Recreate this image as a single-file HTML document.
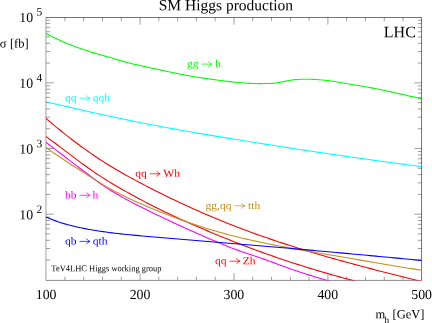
<!DOCTYPE html>
<html><head><meta charset="utf-8"><title>SM Higgs production</title>
<style>html,body{margin:0;padding:0;background:#fff;}body{width:432px;height:323px;overflow:hidden;position:relative;font-family:"Liberation Serif",serif;}</style>
</head><body>
<svg width="432" height="323" viewBox="0 0 432 323" style="position:absolute;left:0;top:0;will-change:transform">
<defs><clipPath id="c"><rect x="46.0" y="17.5" width="375.55" height="262.9"/></clipPath></defs>
<path d="M64.91,17.5v3.7M64.91,280.4v-3.7M83.69,17.5v3.7M83.69,280.4v-3.7M102.48,17.5v3.7M102.48,280.4v-3.7M121.27,17.5v3.7M121.27,280.4v-3.7M140.05,17.5v7.2M140.05,280.4v-7.2M158.84,17.5v3.7M158.84,280.4v-3.7M177.62,17.5v3.7M177.62,280.4v-3.7M196.41,17.5v3.7M196.41,280.4v-3.7M215.19,17.5v3.7M215.19,280.4v-3.7M233.97,17.5v7.2M233.97,280.4v-7.2M252.76,17.5v3.7M252.76,280.4v-3.7M271.55,17.5v3.7M271.55,280.4v-3.7M290.33,17.5v3.7M290.33,280.4v-3.7M309.12,17.5v3.7M309.12,280.4v-3.7M327.90,17.5v7.2M327.90,280.4v-7.2M346.69,17.5v3.7M346.69,280.4v-3.7M365.47,17.5v3.7M365.47,280.4v-3.7M384.25,17.5v3.7M384.25,280.4v-3.7M403.04,17.5v3.7M403.04,280.4v-3.7M46.0,82.86h7.7M421.55,82.86h-7.2M46.0,63.09h4.2M421.55,63.09h-3.7M46.0,51.53h4.2M421.55,51.53h-3.7M46.0,43.33h4.2M421.55,43.33h-3.7M46.0,36.97h4.2M421.55,36.97h-3.7M46.0,31.77h4.2M421.55,31.77h-3.7M46.0,27.37h4.2M421.55,27.37h-3.7M46.0,23.56h4.2M421.55,23.56h-3.7M46.0,20.20h4.2M421.55,20.20h-3.7M46.0,148.52h7.7M421.55,148.52h-7.2M46.0,128.75h4.2M421.55,128.75h-3.7M46.0,117.19h4.2M421.55,117.19h-3.7M46.0,108.99h4.2M421.55,108.99h-3.7M46.0,102.63h4.2M421.55,102.63h-3.7M46.0,97.43h4.2M421.55,97.43h-3.7M46.0,93.03h4.2M421.55,93.03h-3.7M46.0,89.22h4.2M421.55,89.22h-3.7M46.0,85.86h4.2M421.55,85.86h-3.7M46.0,214.18h7.7M421.55,214.18h-7.2M46.0,194.41h4.2M421.55,194.41h-3.7M46.0,182.85h4.2M421.55,182.85h-3.7M46.0,174.65h4.2M421.55,174.65h-3.7M46.0,168.29h4.2M421.55,168.29h-3.7M46.0,163.09h4.2M421.55,163.09h-3.7M46.0,158.69h4.2M421.55,158.69h-3.7M46.0,154.88h4.2M421.55,154.88h-3.7M46.0,151.52h4.2M421.55,151.52h-3.7M46.0,260.07h4.2M421.55,260.07h-3.7M46.0,248.51h4.2M421.55,248.51h-3.7M46.0,240.31h4.2M421.55,240.31h-3.7M46.0,233.95h4.2M421.55,233.95h-3.7M46.0,228.75h4.2M421.55,228.75h-3.7M46.0,224.35h4.2M421.55,224.35h-3.7M46.0,220.54h4.2M421.55,220.54h-3.7M46.0,217.18h4.2M421.55,217.18h-3.7" stroke="#000" stroke-width="0.38" fill="none"/>
<path d="M45.95,17.5H421.55V280.4" fill="none" stroke="#000" stroke-width="0.55"/><path d="M45.95,17.23V280.4" fill="none" stroke="#000" stroke-width="0.38"/><path d="M45.95,280.4H421.82" fill="none" stroke="#000" stroke-width="0.45"/>
<g clip-path="url(#c)" fill="none" stroke-width="1.1">
<path d="M46.00,33.51 L49.00,35.10 L52.00,36.62 L55.00,38.09 L58.00,39.49 L61.00,40.85 L64.00,42.15 L67.00,43.41 L70.00,44.61 L73.00,45.78 L76.00,46.90 L79.00,47.98 L82.00,49.03 L85.00,50.04 L88.00,51.02 L91.00,51.97 L94.00,52.89 L97.00,53.79 L100.00,54.66 L103.00,55.52 L106.00,56.37 L109.00,57.22 L112.00,58.08 L115.00,58.97 L118.00,59.87 L121.00,60.75 L124.00,61.62 L127.00,62.43 L130.00,63.20 L133.00,63.93 L136.00,64.64 L139.00,65.32 L142.00,65.99 L145.00,66.65 L148.00,67.30 L151.00,67.94 L154.00,68.59 L157.00,69.24 L160.00,69.89 L163.00,70.54 L166.00,71.19 L169.00,71.83 L172.00,72.47 L175.00,73.09 L178.00,73.70 L181.00,74.30 L184.00,74.88 L187.00,75.44 L190.00,75.98 L193.00,76.49 L196.00,76.98 L199.00,77.46 L202.00,77.91 L205.00,78.36 L208.00,78.79 L211.00,79.22 L214.00,79.65 L217.00,80.06 L220.00,80.47 L223.00,80.86 L226.00,81.23 L229.00,81.58 L232.00,81.92 L235.00,82.23 L238.00,82.51 L241.00,82.77 L244.00,82.99 L247.00,83.19 L250.00,83.34 L253.00,83.47 L256.00,83.55 L259.00,83.59 L262.00,83.58 L265.00,83.54 L268.00,83.46 L271.00,83.34 L274.00,83.15 L277.00,82.82 L280.00,82.36 L283.00,81.76 L286.00,81.11 L289.00,80.50 L292.00,80.00 L295.00,79.65 L298.00,79.43 L301.00,79.31 L304.00,79.23 L307.00,79.21 L310.00,79.24 L313.00,79.33 L316.00,79.49 L319.00,79.70 L322.00,79.97 L325.00,80.29 L328.00,80.66 L331.00,81.06 L334.00,81.50 L337.00,81.97 L340.00,82.46 L343.00,82.96 L346.00,83.48 L349.00,84.00 L352.00,84.52 L355.00,85.03 L358.00,85.53 L361.00,86.04 L364.00,86.55 L367.00,87.07 L370.00,87.60 L373.00,88.16 L376.00,88.73 L379.00,89.33 L382.00,89.94 L385.00,90.56 L388.00,91.20 L391.00,91.86 L394.00,92.52 L397.00,93.19 L400.00,93.87 L403.00,94.55 L406.00,95.24 L409.00,95.93 L412.00,96.62 L415.00,97.31 L418.00,98.00 L421.00,98.68 L421.55,98.81" stroke="#00ff00"/>
<path d="M46.00,101.80 L49.00,102.49 L52.00,103.19 L55.00,103.88 L58.00,104.58 L61.00,105.27 L64.00,105.96 L67.00,106.66 L70.00,107.35 L73.00,108.03 L76.00,108.72 L79.00,109.41 L82.00,110.09 L85.00,110.77 L88.00,111.44 L91.00,112.12 L94.00,112.79 L97.00,113.45 L100.00,114.12 L103.00,114.78 L106.00,115.43 L109.00,116.08 L112.00,116.73 L115.00,117.37 L118.00,118.01 L121.00,118.64 L124.00,119.27 L127.00,119.89 L130.00,120.51 L133.00,121.12 L136.00,121.72 L139.00,122.33 L142.00,122.92 L145.00,123.51 L148.00,124.09 L151.00,124.67 L154.00,125.25 L157.00,125.82 L160.00,126.38 L163.00,126.94 L166.00,127.50 L169.00,128.05 L172.00,128.59 L175.00,129.13 L178.00,129.67 L181.00,130.21 L184.00,130.74 L187.00,131.26 L190.00,131.79 L193.00,132.31 L196.00,132.82 L199.00,133.34 L202.00,133.85 L205.00,134.36 L208.00,134.86 L211.00,135.37 L214.00,135.87 L217.00,136.37 L220.00,136.86 L223.00,137.36 L226.00,137.85 L229.00,138.34 L232.00,138.83 L235.00,139.32 L238.00,139.81 L241.00,140.29 L244.00,140.78 L247.00,141.26 L250.00,141.74 L253.00,142.22 L256.00,142.70 L259.00,143.18 L262.00,143.66 L265.00,144.13 L268.00,144.60 L271.00,145.08 L274.00,145.55 L277.00,146.01 L280.00,146.48 L283.00,146.95 L286.00,147.41 L289.00,147.87 L292.00,148.33 L295.00,148.79 L298.00,149.25 L301.00,149.71 L304.00,150.16 L307.00,150.61 L310.00,151.06 L313.00,151.51 L316.00,151.96 L319.00,152.41 L322.00,152.85 L325.00,153.29 L328.00,153.73 L331.00,154.17 L334.00,154.61 L337.00,155.04 L340.00,155.48 L343.00,155.91 L346.00,156.34 L349.00,156.77 L352.00,157.19 L355.00,157.62 L358.00,158.04 L361.00,158.46 L364.00,158.88 L367.00,159.30 L370.00,159.71 L373.00,160.13 L376.00,160.54 L379.00,160.95 L382.00,161.36 L385.00,161.76 L388.00,162.17 L391.00,162.57 L394.00,162.97 L397.00,163.36 L400.00,163.76 L403.00,164.15 L406.00,164.55 L409.00,164.93 L412.00,165.32 L415.00,165.71 L418.00,166.09 L421.00,166.47 L421.55,166.54" stroke="#00ffff"/>
<path d="M45.50,118.01 L48.50,120.56 L51.50,123.09 L54.50,125.59 L57.50,128.06 L60.50,130.51 L63.50,132.93 L66.50,135.31 L69.50,137.67 L72.50,139.99 L75.50,142.28 L78.50,144.53 L81.50,146.75 L84.50,148.93 L87.50,151.07 L90.50,153.17 L93.50,155.23 L96.50,157.24 L99.50,159.22 L102.50,161.16 L105.50,163.06 L108.50,164.92 L111.50,166.75 L114.50,168.55 L117.50,170.32 L120.50,172.06 L123.50,173.77 L126.50,175.45 L129.50,177.12 L132.50,178.76 L135.50,180.38 L138.50,181.98 L141.50,183.56 L144.50,185.13 L147.50,186.69 L150.50,188.23 L153.50,189.76 L156.50,191.27 L159.50,192.77 L162.50,194.26 L165.50,195.74 L168.50,197.20 L171.50,198.65 L174.50,200.08 L177.50,201.50 L180.50,202.91 L183.50,204.30 L186.50,205.68 L189.50,207.05 L192.50,208.41 L195.50,209.75 L198.50,211.08 L201.50,212.39 L204.50,213.69 L207.50,214.98 L210.50,216.26 L213.50,217.52 L216.50,218.77 L219.50,220.01 L222.50,221.23 L225.50,222.44 L228.50,223.64 L231.50,224.83 L234.50,226.00 L237.50,227.16 L240.50,228.31 L243.50,229.45 L246.50,230.57 L249.50,231.68 L252.50,232.78 L255.50,233.86 L258.50,234.94 L261.50,236.00 L264.50,237.05 L267.50,238.09 L270.50,239.13 L273.50,240.14 L276.50,241.15 L279.50,242.15 L282.50,243.14 L285.50,244.12 L288.50,245.09 L291.50,246.05 L294.50,247.00 L297.50,247.94 L300.50,248.88 L303.50,249.80 L306.50,250.72 L309.50,251.62 L312.50,252.52 L315.50,253.42 L318.50,254.30 L321.50,255.18 L324.50,256.05 L327.50,256.91 L330.50,257.76 L333.50,258.61 L336.50,259.45 L339.50,260.29 L342.50,261.12 L345.50,261.94 L348.50,262.76 L351.50,263.58 L354.50,264.38 L357.50,265.19 L360.50,265.98 L363.50,266.78 L366.50,267.57 L369.50,268.35 L372.50,269.13 L375.50,269.91 L378.50,270.68 L381.50,271.45 L384.50,272.21 L387.50,272.98 L390.50,273.74 L393.50,274.49 L396.50,275.25 L399.50,276.00 L402.50,276.75 L405.50,277.50 L408.50,278.25 L411.50,278.99 L414.50,279.74 L417.50,280.48 L420.50,281.22 L423.50,281.96 L425.00,282.33" stroke="#ff0000"/>
<path d="M45.50,136.20 L48.50,138.37 L51.50,140.58 L54.50,142.81 L57.50,145.06 L60.50,147.32 L63.50,149.60 L66.50,151.87 L69.50,154.15 L72.50,156.41 L75.50,158.66 L78.50,160.90 L81.50,163.11 L84.50,165.30 L87.50,167.46 L90.50,169.57 L93.50,171.65 L96.50,173.68 L99.50,175.66 L102.50,177.61 L105.50,179.51 L108.50,181.37 L111.50,183.20 L114.50,184.99 L117.50,186.75 L120.50,188.49 L123.50,190.20 L126.50,191.89 L129.50,193.56 L132.50,195.20 L135.50,196.84 L138.50,198.45 L141.50,200.05 L144.50,201.63 L147.50,203.20 L150.50,204.74 L153.50,206.27 L156.50,207.78 L159.50,209.27 L162.50,210.74 L165.50,212.19 L168.50,213.62 L171.50,215.04 L174.50,216.43 L177.50,217.80 L180.50,219.15 L183.50,220.49 L186.50,221.82 L189.50,223.13 L192.50,224.44 L195.50,225.73 L198.50,227.02 L201.50,228.31 L204.50,229.59 L207.50,230.87 L210.50,232.15 L213.50,233.41 L216.50,234.67 L219.50,235.91 L222.50,237.14 L225.50,238.36 L228.50,239.57 L231.50,240.76 L234.50,241.95 L237.50,243.12 L240.50,244.29 L243.50,245.44 L246.50,246.58 L249.50,247.71 L252.50,248.83 L255.50,249.94 L258.50,251.03 L261.50,252.12 L264.50,253.20 L267.50,254.26 L270.50,255.32 L273.50,256.36 L276.50,257.40 L279.50,258.42 L282.50,259.44 L285.50,260.44 L288.50,261.44 L291.50,262.42 L294.50,263.40 L297.50,264.36 L300.50,265.31 L303.50,266.26 L306.50,267.20 L309.50,268.12 L312.50,269.04 L315.50,269.95 L318.50,270.85 L321.50,271.73 L324.50,272.61 L327.50,273.49 L330.50,274.35 L333.50,275.20 L336.50,276.04 L339.50,276.88 L342.50,277.71 L345.50,278.52 L348.50,279.33 L351.50,280.14 L354.50,280.93 L357.50,281.71 L360.00,282.36" stroke="#ff0000"/>
<path d="M45.50,141.97 L48.50,144.26 L51.50,146.55 L54.50,148.84 L57.50,151.14 L60.50,153.44 L63.50,155.73 L66.50,158.03 L69.50,160.32 L72.50,162.62 L75.50,164.91 L78.50,167.20 L81.50,169.48 L84.50,171.76 L87.50,174.04 L90.50,176.30 L93.50,178.56 L96.50,180.79 L99.50,182.98 L102.50,185.10 L105.50,187.15 L108.50,189.10 L111.50,190.97 L114.50,192.76 L117.50,194.50 L120.50,196.20 L123.50,197.86 L126.50,199.50 L129.50,201.11 L132.50,202.70 L135.50,204.26 L138.50,205.80 L141.50,207.32 L144.50,208.82 L147.50,210.31 L150.50,211.78 L153.50,213.23 L156.50,214.67 L159.50,216.11 L162.50,217.53 L165.50,218.94 L168.50,220.35 L171.50,221.75 L174.50,223.14 L177.50,224.53 L180.50,225.91 L183.50,227.28 L186.50,228.64 L189.50,230.00 L192.50,231.35 L195.50,232.69 L198.50,234.03 L201.50,235.36 L204.50,236.69 L207.50,238.00 L210.50,239.30 L213.50,240.59 L216.50,241.86 L219.50,243.11 L222.50,244.35 L225.50,245.56 L228.50,246.74 L231.50,247.90 L234.50,249.03 L237.50,250.14 L240.50,251.21 L243.50,252.25 L246.50,253.28 L249.50,254.30 L252.50,255.30 L255.50,256.31 L258.50,257.32 L261.50,258.34 L264.50,259.38 L267.50,260.44 L270.50,261.53 L273.50,262.64 L276.50,263.76 L279.50,264.89 L282.50,266.00 L285.50,267.10 L288.50,268.17 L291.50,269.22 L294.50,270.25 L297.50,271.26 L300.50,272.25 L303.50,273.23 L306.50,274.19 L309.50,275.14 L312.50,276.08 L315.50,277.00 L318.50,277.91 L321.50,278.82 L324.50,279.71 L327.50,280.60 L330.50,281.50 L333.50,282.41 L334.00,282.56" stroke="#ff00ff"/>
<path d="M45.50,147.06 L48.50,149.22 L51.50,151.34 L54.50,153.43 L57.50,155.49 L60.50,157.52 L63.50,159.53 L66.50,161.52 L69.50,163.48 L72.50,165.43 L75.50,167.36 L78.50,169.28 L81.50,171.19 L84.50,173.09 L87.50,174.99 L90.50,176.88 L93.50,178.77 L96.50,180.65 L99.50,182.52 L102.50,184.35 L105.50,186.15 L108.50,187.89 L111.50,189.58 L114.50,191.22 L117.50,192.80 L120.50,194.33 L123.50,195.80 L126.50,197.24 L129.50,198.65 L132.50,200.03 L135.50,201.39 L138.50,202.73 L141.50,204.06 L144.50,205.37 L147.50,206.66 L150.50,207.93 L153.50,209.18 L156.50,210.42 L159.50,211.64 L162.50,212.84 L165.50,214.02 L168.50,215.18 L171.50,216.33 L174.50,217.45 L177.50,218.56 L180.50,219.65 L183.50,220.73 L186.50,221.78 L189.50,222.82 L192.50,223.84 L195.50,224.84 L198.50,225.82 L201.50,226.79 L204.50,227.73 L207.50,228.66 L210.50,229.57 L213.50,230.46 L216.50,231.34 L219.50,232.19 L222.50,233.03 L225.50,233.85 L228.50,234.66 L231.50,235.44 L234.50,236.21 L237.50,236.96 L240.50,237.69 L243.50,238.41 L246.50,239.12 L249.50,239.80 L252.50,240.48 L255.50,241.14 L258.50,241.79 L261.50,242.43 L264.50,243.06 L267.50,243.67 L270.50,244.27 L273.50,244.87 L276.50,245.45 L279.50,246.03 L282.50,246.59 L285.50,247.15 L288.50,247.71 L291.50,248.25 L294.50,248.79 L297.50,249.32 L300.50,249.85 L303.50,250.37 L306.50,250.89 L309.50,251.41 L312.50,251.92 L315.50,252.43 L318.50,252.94 L321.50,253.45 L324.50,253.96 L327.50,254.47 L330.50,254.97 L333.50,255.48 L336.50,255.99 L339.50,256.50 L342.50,257.02 L345.50,257.53 L348.50,258.05 L351.50,258.56 L354.50,259.08 L357.50,259.60 L360.50,260.11 L363.50,260.63 L366.50,261.14 L369.50,261.66 L372.50,262.17 L375.50,262.69 L378.50,263.20 L381.50,263.71 L384.50,264.22 L387.50,264.72 L390.50,265.23 L393.50,265.73 L396.50,266.23 L399.50,266.72 L402.50,267.21 L405.50,267.70 L408.50,268.18 L411.50,268.66 L414.50,269.14 L417.50,269.61 L420.50,270.08 L421.50,270.23" stroke="#c68e20"/>
<path d="M46.00,217.05 L49.00,218.33 L52.00,219.52 L55.00,220.64 L58.00,221.69 L61.00,222.68 L64.00,223.60 L67.00,224.47 L70.00,225.28 L73.00,226.04 L76.00,226.75 L79.00,227.42 L82.00,228.06 L85.00,228.65 L88.00,229.21 L91.00,229.75 L94.00,230.25 L97.00,230.74 L100.00,231.20 L103.00,231.64 L106.00,232.06 L109.00,232.46 L112.00,232.84 L115.00,233.20 L118.00,233.55 L121.00,233.89 L124.00,234.21 L127.00,234.52 L130.00,234.82 L133.00,235.11 L136.00,235.39 L139.00,235.67 L142.00,235.94 L145.00,236.21 L148.00,236.47 L151.00,236.73 L154.00,237.00 L157.00,237.26 L160.00,237.51 L163.00,237.77 L166.00,238.03 L169.00,238.28 L172.00,238.53 L175.00,238.79 L178.00,239.04 L181.00,239.29 L184.00,239.54 L187.00,239.79 L190.00,240.04 L193.00,240.28 L196.00,240.53 L199.00,240.78 L202.00,241.02 L205.00,241.27 L208.00,241.52 L211.00,241.76 L214.00,242.01 L217.00,242.26 L220.00,242.50 L223.00,242.75 L226.00,243.00 L229.00,243.24 L232.00,243.49 L235.00,243.74 L238.00,243.99 L241.00,244.24 L244.00,244.49 L247.00,244.74 L250.00,244.99 L253.00,245.24 L256.00,245.49 L259.00,245.75 L262.00,246.00 L265.00,246.26 L268.00,246.51 L271.00,246.77 L274.00,247.02 L277.00,247.28 L280.00,247.54 L283.00,247.80 L286.00,248.06 L289.00,248.32 L292.00,248.58 L295.00,248.84 L298.00,249.10 L301.00,249.37 L304.00,249.63 L307.00,249.89 L310.00,250.16 L313.00,250.42 L316.00,250.69 L319.00,250.96 L322.00,251.23 L325.00,251.49 L328.00,251.76 L331.00,252.03 L334.00,252.30 L337.00,252.57 L340.00,252.84 L343.00,253.12 L346.00,253.39 L349.00,253.66 L352.00,253.93 L355.00,254.21 L358.00,254.48 L361.00,254.76 L364.00,255.04 L367.00,255.31 L370.00,255.59 L373.00,255.87 L376.00,256.15 L379.00,256.43 L382.00,256.71 L385.00,256.99 L388.00,257.27 L391.00,257.55 L394.00,257.83 L397.00,258.12 L400.00,258.40 L403.00,258.69 L406.00,258.97 L409.00,259.26 L412.00,259.54 L415.00,259.83 L418.00,260.12 L421.00,260.40 L421.50,260.45" stroke="#0000ff"/>
</g>
<g font-family="'Liberation Serif', serif" text-rendering="geometricPrecision"><text transform="translate(225.90,10.30) rotate(0.03)" font-size="15.5" fill="#000" text-anchor="middle" >SM Higgs production</text><text transform="translate(399.80,37.30) rotate(0.03)" font-size="16" fill="#000" text-anchor="middle" >LHC</text><text transform="translate(46.10,299.00) rotate(0.03)" font-size="13.8" fill="#000" text-anchor="middle" >100</text><text transform="translate(139.99,299.00) rotate(0.03)" font-size="13.8" fill="#000" text-anchor="middle" >200</text><text transform="translate(233.88,299.00) rotate(0.03)" font-size="13.8" fill="#000" text-anchor="middle" >300</text><text transform="translate(327.76,299.00) rotate(0.03)" font-size="13.8" fill="#000" text-anchor="middle" >400</text><text transform="translate(421.65,299.00) rotate(0.03)" font-size="13.8" fill="#000" text-anchor="middle" >500</text><text transform="translate(19.30,21.90) rotate(0.03)" font-size="13.8" fill="#000" text-anchor="start" >10</text><text transform="translate(36.60,15.60) rotate(0.03)" font-size="11.5" fill="#000" text-anchor="start" >5</text><text transform="translate(19.30,87.72) rotate(0.03)" font-size="13.8" fill="#000" text-anchor="start" >10</text><text transform="translate(36.60,81.42) rotate(0.03)" font-size="11.5" fill="#000" text-anchor="start" >4</text><text transform="translate(19.30,153.54) rotate(0.03)" font-size="13.8" fill="#000" text-anchor="start" >10</text><text transform="translate(36.60,147.24) rotate(0.03)" font-size="11.5" fill="#000" text-anchor="start" >3</text><text transform="translate(19.30,219.36) rotate(0.03)" font-size="13.8" fill="#000" text-anchor="start" >10</text><text transform="translate(36.60,213.06) rotate(0.03)" font-size="11.5" fill="#000" text-anchor="start" >2</text><text transform="translate(-0.30,47.50) rotate(0.03)" font-size="12.5" fill="#000" text-anchor="start" >σ</text><text transform="translate(9.90,47.50) rotate(0.03)" font-size="12.5" fill="#000" text-anchor="start" >[fb]</text><text transform="translate(375.40,318.20) rotate(0.03)" font-size="12.5" fill="#000" text-anchor="start" >m</text><text transform="translate(384.60,323.10) rotate(0.03)" font-size="9.2" fill="#000" text-anchor="start" >h</text><text transform="translate(392.55,318.20) rotate(0.03)" font-size="12.5" fill="#000" text-anchor="start" >[GeV]</text><text transform="translate(186.90,67.20) rotate(0.03) scale(1,0.92)" font-size="11.6" fill="#00ff00" text-anchor="start" >gg</text><text transform="translate(215.30,67.20) rotate(0.03) scale(1,0.92)" font-size="11.6" fill="#00ff00" text-anchor="start" >h</text><text transform="translate(65.00,101.30) rotate(0.03) scale(1,0.92)" font-size="11.6" fill="#00ffff" text-anchor="start" >qq</text><text transform="translate(92.70,101.30) rotate(0.03) scale(1,0.92)" font-size="11.6" fill="#00ffff" text-anchor="start" >qqh</text><text transform="translate(135.15,176.85) rotate(0.03) scale(1,0.92)" font-size="11.6" fill="#ff0000" text-anchor="start" >qq</text><text transform="translate(163.35,176.85) rotate(0.03) scale(1,0.92)" font-size="11.6" fill="#ff0000" text-anchor="start" >Wh</text><text transform="translate(65.00,198.40) rotate(0.03) scale(1,0.92)" font-size="11.6" fill="#ff00ff" text-anchor="start" >bb</text><text transform="translate(92.60,198.40) rotate(0.03) scale(1,0.92)" font-size="11.6" fill="#ff00ff" text-anchor="start" >h</text><text transform="translate(205.50,208.90) rotate(0.03) scale(1,0.92)" font-size="11.6" fill="#c68e20" text-anchor="start" >gg,qq</text><text transform="translate(248.10,208.90) rotate(0.03) scale(1,0.92)" font-size="11.6" fill="#c68e20" text-anchor="start" >tth</text><text transform="translate(65.00,244.50) rotate(0.03) scale(1,0.92)" font-size="11.6" fill="#0000ff" text-anchor="start" >qb</text><text transform="translate(92.70,244.50) rotate(0.03) scale(1,0.92)" font-size="11.6" fill="#0000ff" text-anchor="start" >qth</text><text transform="translate(215.00,264.30) rotate(0.03) scale(1,0.92)" font-size="11.6" fill="#ff0000" text-anchor="start" >qq</text><text transform="translate(242.70,264.30) rotate(0.03) scale(1,0.92)" font-size="11.6" fill="#ff0000" text-anchor="start" >Zh</text><text transform="translate(51.30,271.20) rotate(0.03) scale(1,1.06)" font-size="8.47" fill="#000" text-anchor="start" >TeV4LHC Higgs working group</text></g>
<g fill="none" stroke-width="0.76" stroke-linecap="round" stroke-linejoin="round"><path d="M201.80,64.10h9.9M208.50,61.60Q209.50,63.40 211.70,64.10Q209.50,64.80 208.50,66.60" stroke="#00ff00"/><path d="M79.90,98.20h9.9M86.60,95.70Q87.60,97.50 89.80,98.20Q87.60,98.90 86.60,100.70" stroke="#00ffff"/><path d="M150.05,173.75h9.9M156.75,171.25Q157.75,173.05 159.95,173.75Q157.75,174.45 156.75,176.25" stroke="#ff0000"/><path d="M79.90,195.30h9.9M86.60,192.80Q87.60,194.60 89.80,195.30Q87.60,196.00 86.60,197.80" stroke="#ff00ff"/><path d="M234.90,205.80h9.9M241.60,203.30Q242.60,205.10 244.80,205.80Q242.60,206.50 241.60,208.30" stroke="#c68e20"/><path d="M79.90,241.40h9.9M86.60,238.90Q87.60,240.70 89.80,241.40Q87.60,242.10 86.60,243.90" stroke="#0000ff"/><path d="M229.90,261.20h9.9M236.60,258.70Q237.60,260.50 239.80,261.20Q237.60,261.90 236.60,263.70" stroke="#ff0000"/></g>
</svg>
</body></html>
